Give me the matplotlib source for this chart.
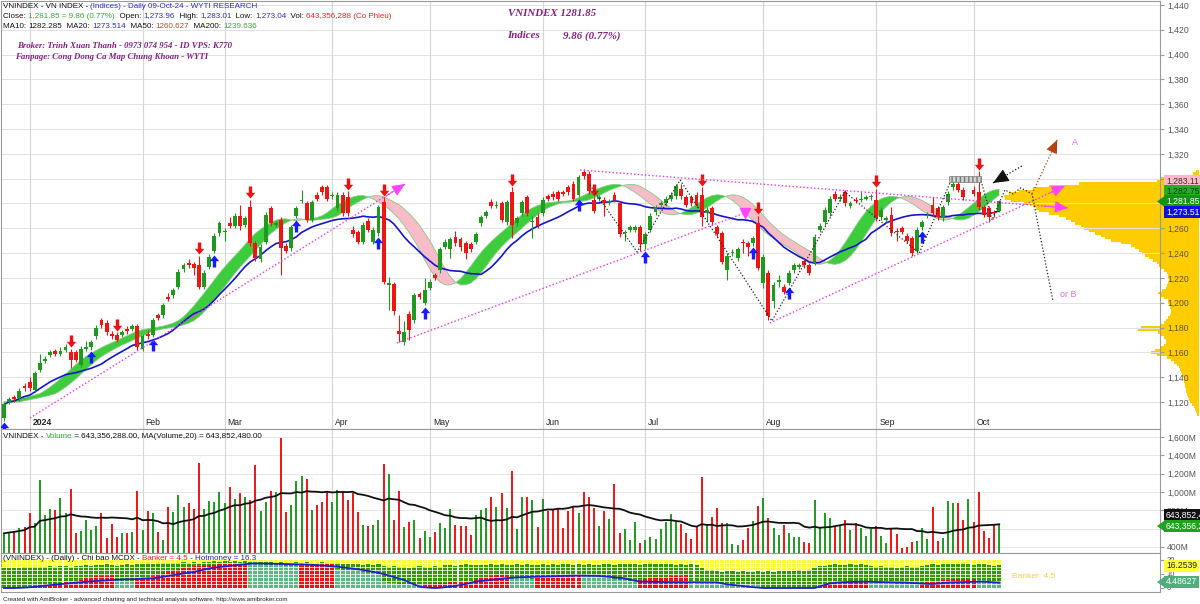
import numpy as np
import pandas as pd
import matplotlib
matplotlib.use("Agg")
import matplotlib.pyplot as plt
from matplotlib.path import Path
from matplotlib.patches import Rectangle, Polygon

plt.rcParams['font.family'] = ['Liberation Sans', 'DejaVu Sans']

# ---------------- data ----------------
opens = [1107, 1120, 1124, 1123, 1133, 1136, 1130, 1146, 1153, 1158,
         1161, 1159, 1162, 1160, 1160, 1150, 1163, 1164, 1173, 1186,
         1184, 1175, 1174, 1174, 1179, 1179, 1181, 1163, 1175, 1174,
         1190, 1190, 1205, 1206, 1213, 1227, 1232, 1231, 1230, 1213,
         1229, 1242, 1256, 1257, 1264, 1262, 1270, 1263, 1277, 1248,
         1235, 1249, 1276, 1263, 1267, 1246, 1244, 1270, 1282, 1280,
         1267, 1287, 1293, 1293, 1286, 1276, 1287, 1285, 1259, 1257,
         1249, 1266, 1249, 1256, 1281, 1214, 1215, 1177, 1168, 1191,
         1186, 1207, 1200, 1212, 1222, 1226, 1245, 1243, 1253, 1251,
         1248, 1247, 1249, 1264, 1270, 1281, 1278, 1280, 1265, 1289,
         1264, 1272, 1285, 1265, 1269, 1272, 1286, 1288, 1289, 1289,
         1293, 1296, 1287, 1305, 1304, 1283, 1284, 1283, 1281, 1287,
         1280, 1256, 1259, 1259, 1261, 1247, 1259, 1273, 1279, 1280,
         1284, 1286, 1292, 1285, 1285, 1287, 1287, 1272, 1276, 1261,
         1256, 1226, 1240, 1236, 1249, 1248, 1248, 1264, 1216, 1224,
         1201, 1217, 1213, 1216, 1226, 1229, 1234, 1230, 1232, 1259,
         1265, 1272, 1288, 1284, 1289, 1278, 1283, 1283, 1284, 1285,
         1283, 1269, 1267, 1271, 1258, 1260, 1254, 1252, 1242, 1261,
         1270, 1279, 1276, 1268, 1281, 1293, 1296, 1291, 1299, 1291,
         1289, 1277, 1276, 1273, 1273.96]
highs = [1120, 1124, 1126, 1131, 1135, 1140, 1145, 1159, 1157, 1162,
         1163, 1164, 1167, 1163, 1162, 1165, 1169, 1170, 1182, 1188,
         1186, 1177, 1176, 1178, 1181, 1183, 1183, 1175, 1178, 1188,
         1192, 1200, 1208, 1212, 1227, 1232, 1235, 1233, 1238, 1226,
         1239, 1256, 1266, 1260, 1269, 1272, 1279, 1270, 1283, 1250,
         1247, 1273, 1278, 1266, 1269, 1248, 1263, 1278, 1291, 1282,
         1283, 1289, 1295, 1295, 1289, 1289, 1289, 1290, 1262, 1259,
         1265, 1268, 1261, 1279, 1285, 1221, 1217, 1190, 1185, 1193,
         1208, 1209, 1220, 1219, 1224, 1245, 1251, 1253, 1258, 1253,
         1250, 1249, 1257, 1271, 1275, 1284, 1282, 1282, 1283, 1293,
         1270, 1283, 1287, 1270, 1272, 1285, 1288, 1290, 1291, 1291,
         1295, 1298, 1303, 1308, 1306, 1285, 1287, 1285, 1284, 1289,
         1282, 1259, 1263, 1263, 1263, 1257, 1272, 1279, 1282, 1286,
         1289, 1296, 1296, 1287, 1287, 1289, 1293, 1277, 1278, 1263,
         1258, 1240, 1243, 1245, 1251, 1250, 1254, 1270, 1239, 1226,
         1217, 1222, 1215, 1226, 1232, 1232, 1236, 1232, 1255, 1264,
         1277, 1286, 1290, 1288, 1291, 1282, 1285, 1290, 1287, 1288,
         1292, 1277, 1270, 1277, 1260, 1262, 1256, 1254, 1261, 1267,
         1273, 1285, 1278, 1279, 1290, 1298, 1298, 1293, 1302, 1294,
         1306, 1279, 1278, 1275, 1283.01]
lows = [1105, 1118, 1120, 1121, 1129, 1129, 1128, 1144, 1151, 1156,
        1157, 1157, 1160, 1147, 1152, 1148, 1161, 1162, 1171, 1180,
        1174, 1171, 1168, 1172, 1175, 1177, 1162, 1161, 1171, 1172,
        1186, 1188, 1201, 1204, 1211, 1225, 1228, 1222, 1211, 1211,
        1227, 1240, 1254, 1250, 1260, 1260, 1259, 1261, 1246, 1234,
        1233, 1247, 1262, 1261, 1222, 1240, 1242, 1268, 1280, 1265,
        1265, 1282, 1287, 1282, 1284, 1274, 1270, 1270, 1253, 1247,
        1247, 1257, 1247, 1254, 1215, 1194, 1190, 1168, 1166, 1170,
        1184, 1203, 1198, 1210, 1218, 1224, 1243, 1236, 1246, 1242,
        1235, 1241, 1247, 1262, 1268, 1276, 1276, 1265, 1263, 1252,
        1262, 1270, 1270, 1252, 1260, 1270, 1282, 1283, 1282, 1286,
        1287, 1282, 1285, 1300, 1288, 1272, 1282, 1270, 1279, 1281,
        1253, 1250, 1257, 1257, 1242, 1243, 1257, 1271, 1277, 1278,
        1282, 1284, 1284, 1277, 1278, 1277, 1262, 1265, 1263, 1253,
        1231, 1218, 1238, 1234, 1240, 1238, 1246, 1226, 1212, 1186,
        1196, 1213, 1207, 1214, 1224, 1227, 1228, 1222, 1230, 1257,
        1263, 1270, 1282, 1282, 1278, 1276, 1280, 1281, 1283, 1283,
        1266, 1267, 1265, 1254, 1250, 1255, 1248, 1238, 1240, 1259,
        1268, 1270, 1267, 1266, 1279, 1291, 1289, 1283, 1297, 1286,
        1275, 1269, 1265, 1269, 1273.04]
closes = [1118, 1122, 1122, 1129, 1131, 1131, 1143, 1151, 1155, 1160,
          1159, 1161, 1164, 1154, 1154, 1163, 1164, 1168, 1180, 1182,
          1176, 1173, 1170, 1176, 1177, 1181, 1164, 1173, 1173, 1186,
          1188, 1198, 1203, 1210, 1225, 1230, 1230, 1228, 1213, 1224,
          1237, 1254, 1264, 1258, 1262, 1270, 1262, 1268, 1248, 1236,
          1245, 1271, 1264, 1264, 1244, 1242, 1261, 1276, 1283, 1267,
          1281, 1284, 1289, 1284, 1287, 1287, 1272, 1272, 1255, 1249,
          1263, 1259, 1259, 1277, 1217, 1216, 1193, 1175, 1176, 1178,
          1206, 1205, 1210, 1217, 1220, 1243, 1249, 1251, 1248, 1245,
          1240, 1243, 1255, 1269, 1273, 1278, 1279, 1267, 1281, 1263,
          1268, 1281, 1272, 1266, 1262, 1283, 1284, 1285, 1284, 1288,
          1289, 1284, 1301, 1302, 1290, 1274, 1285, 1280, 1282, 1283,
          1255, 1257, 1261, 1261, 1247, 1255, 1270, 1277, 1280, 1284,
          1287, 1294, 1286, 1279, 1280, 1279, 1269, 1275, 1265, 1255,
          1233, 1238, 1241, 1243, 1248, 1245, 1252, 1228, 1237, 1189,
          1214, 1218, 1209, 1224, 1230, 1230, 1230, 1224, 1253, 1262,
          1275, 1284, 1284, 1285, 1280, 1280, 1282, 1284, 1285, 1286,
          1268, 1275, 1268, 1256, 1257, 1257, 1250, 1240, 1259, 1265,
          1271, 1272, 1269, 1277, 1288, 1296, 1291, 1285, 1300, 1288,
          1277, 1271, 1269, 1272, 1281.85]

# volume in millions of shares
volume = [549, 568, 579, 604, 622, 775, 659, 1132, 750, 812,
          804, 932, 775, 1030, 557, 579, 695, 586, 630, 768,
          495, 651, 513, 549, 557, 568, 1016, 586, 797, 768,
          568, 477, 841, 786, 968, 834, 877, 812, 1314, 812,
          906, 895, 1005, 885, 1052, 921, 994, 943, 914, 1296,
          797, 892, 1008, 1005, 1588, 786, 859, 1125, 1169, 1140,
          804, 859, 895, 1005, 895, 1023, 1005, 914, 987, 786,
          640, 630, 640, 695, 1303, 1198, 695, 1016, 622, 677,
          695, 495, 575, 513, 568, 666, 604, 812, 640, 630,
          630, 531, 750, 804, 823, 950, 834, 987, 823, 1234,
          593, 950, 950, 914, 615, 921, 797, 804, 812, 604,
          797, 848, 768, 1005, 950, 823, 630, 797, 706, 1089,
          549, 593, 477, 670, 440, 477, 506, 484, 593, 677,
          757, 677, 648, 557, 484, 630, 1161, 648, 724, 830,
          666, 659, 429, 422, 477, 604, 684, 848, 939, 713,
          611, 531, 640, 549, 506, 506, 451, 440, 914, 604,
          768, 713, 622, 630, 695, 586, 666, 604, 524, 593,
          630, 520, 440, 604, 542, 393, 404, 458, 466, 604,
          484, 834, 466, 502, 903, 885, 877, 695, 921, 677,
          1005, 579, 502, 651, 648]

# MCDX indicator
banker = [0.2, 0.3, 0.4, 0.5, 0.6, 0.8,
          1.5, 2, 2.5, 3, 3.3, 3.6, 4, 4.3, 4.5,
          6, 7, 7.8, 8.3, 8.6, 8.8, 9,
          5, 4.8, 4.6, 4.4,
          6.5, 7.5, 8, 8.3,
          10, 11, 12, 13, 13.8, 14.5, 15, 15.6, 16,
          16.2, 16.4, 16.6, 16.8, 17, 17.1, 17.2, 17.3, 17.4,
          17.2, 17, 16.8, 16.6, 16.5, 16.3, 16.1, 16, 15.8, 15.6,
          16, 16.3, 16.5, 16.7, 16.9, 17, 17.1,
          13.5, 13, 12.6, 12.2, 11.8, 11.4, 11, 10.6, 10.2,
          4, 3.8, 3.5, 3.2, 3, 2.7, 2.4, 2.2,
          2.6, 3, 3.3, 3.6, 3.9, 4.1, 4.3, 4.5, 4.6, 4.8,
          6.5, 7.5, 8.2, 8.7, 9, 9.2, 9.4,
          7.5, 7.2, 7, 6.8, 6.6,
          7.5, 8, 8.5, 8.8, 9, 9.2, 9.4, 9.5, 9.6,
          9.3, 9, 8.6, 8.2,
          7.5, 7, 6.5, 6, 5.5, 5, 4.5,
          5.5, 6.5, 7, 7.5, 7.8, 8, 8.3, 8.5, 8.7, 9,
          5, 4.7, 4.4, 4.2, 4, 3.8, 3.6, 3.4, 3.2, 3, 2.8, 2.5, 2.2, 2,
          0, 0, 0, 0, 0, 0, 0, 0, 0, 0, 0,
          1.5, 2.5, 3.2, 3.8, 4.2, 4.5, 4.7, 4.9, 5, 5.1,
          4.5, 4, 3.7, 3.5, 3.3, 3.1, 2.9, 2.8, 2.7, 2.6,
          3.2, 4, 4.6, 5, 5.4, 5.8, 6.1, 6.3, 6.5, 6.6, 6.7,
          6, 5.5, 5.1, 4.8, 4.49]
hotmoney = [14, 14.5, 14, 14.2, 14.8, 15,
            15, 15.3, 14.8, 15.5, 15.2, 15.8, 15.4, 15, 15.6,
            16, 16.4, 15.8, 16.6, 16.2, 16.8, 16.4, 16, 16.6, 17, 16.5,
            17, 17.4, 17.8, 17.2, 17.6, 18, 17.5, 18.2, 17.8, 18.4, 18, 18.6, 18.2,
            18.8, 18.4, 19, 18.6, 19.2, 18.8, 19, 18.5, 19.1, 18.7, 18.4, 18.8,
            18.3, 18.6, 18.1, 18.4, 17.9, 18.2, 18.5, 18, 18.4, 17.8, 18.1, 18.5, 17.9, 18.2,
            17.5, 17, 17.4, 16.8, 17.2, 16.6, 17, 16.5, 16.9,
            15.5, 15, 15.4, 14.8, 15.2, 14.6, 15, 15.4, 14.9, 15.3, 15.7, 15.2,
            16.2, 16.6, 16, 16.5, 16.9, 16.3, 16.7, 16.1, 16.6, 17,
            16.4, 16.8, 16.2, 16.6, 17, 16.5, 16.9, 16.3, 16.7, 17.1,
            16.5, 16.9, 16.4, 16.8, 17.2, 16.6, 17, 16.4, 16.8, 16.2, 16.6,
            16.8, 17.2, 16.6, 17, 17.4, 16.9, 17.3, 16.7, 17.1, 17.5,
            17, 17.4, 16.8, 17.2, 16.6, 17, 16.4, 16.8, 16.2,
            14, 13, 12.5, 12, 11.6, 12.2, 11.8, 11.4, 12, 11.6,
            11.2, 11.8, 11.4, 12, 11.6, 12.2, 11.8, 12.4, 12, 12.6, 12.2, 12.8,
            14.5, 15.5, 16, 16.4, 16.8, 16.2, 16.6, 17, 16.4, 16.8, 16.2,
            15.5, 15, 15.4, 14.8, 15.2, 14.6, 15, 15.4, 14.9, 15.3,
            16, 16.5, 17, 16.6, 17.2, 16.8, 17.4, 17, 17.5, 17.1, 16.7, 17.2, 16.8, 16.4, 16, 16.25]
mcdx_line = [0, 0, 0, 0.1, 0.3, 0.5,
             0.8, 1.2, 1.6, 2, 2.4, 2.8, 3.1, 3.5, 3.8,
             4.1, 4.4, 4.7, 5, 5.2, 5.5, 5.7, 5.9, 6.1, 6.2,
             6.3, 6.4, 6.6, 6.8, 6.9,
             7.4, 8, 8.6, 9.2, 9.8, 10.4, 10.9, 11.4,
             12.3, 13.2, 14,
             14.5, 15, 15.4, 15.8, 16.2,
             16.6, 17, 17.4, 17.5, 17.5, 17.4,
             17.4, 17.3, 17.2, 17.1, 17, 16.9, 16.8, 16.7,
             16.5, 16.3, 16.1, 15.8, 15.5, 15.2,
             14.8, 14.3, 13.8, 13.4, 12.9,
             12.2, 11.5, 10.8, 10,
             8.9, 7.8, 6.8, 5.7,
             4, 2.5, 1, 0.5, 0.2, 0,
             0.2, 0.6, 1, 1.5, 2.1,
             2.9, 3.7, 4.5, 5, 5.4, 5.8, 6.2,
             6.6, 7, 7.3, 7.6,
             7.7, 7.8, 8, 8.1,
             8.2, 8.3, 8.4, 8.5, 8.6, 8.7, 8.8,
             8.8, 8.8, 8.7, 8.7, 8.6,
             8.3, 8, 7.6, 7.3, 6.9,
             6, 5.2, 4.5,
             4.5, 4.4, 4.4, 4.3, 4.3, 4.2, 4.2, 4.2, 4.1, 4.1, 4.1, 4, 4, 4, 4,
             3.3, 2.6, 2.2, 1.8, 1.4, 1, 0.6, 0.3, 0,
             0, 0, 0, 0, 0, 0, 0, 0, 0, 0,
             1, 2.2, 3.3, 3.7, 4, 4.2, 4.3, 4.4, 4.5, 4.5,
             4.4, 4.3, 4.2, 4.1, 4, 3.9, 3.9, 3.8,
             3.6, 3.4, 3.2, 3, 2.9,
             3.2, 3.5, 3.8, 4,
             4.1, 4.2, 4.3, 4.4, 4.5, 4.5,
             4.3, 4, 3.8]

# volume profile: price levels 1110..1306 (step 2) and volume at price (relative units)
vp_levels = list(range(1110, 1308, 2))
vp_volume = [2, 3, 4, 5, 7, 9, 10, 11, 12, 13,
             13, 14, 14, 15, 15, 16, 17, 18, 19, 20,
             22, 25, 28, 32, 42, 48, 44, 38, 35, 33,
             33, 35, 38, 41, 61, 58, 38, 35, 33, 31,
             29, 28, 28, 29, 30, 31, 31, 35, 39, 41,
             37, 33, 32, 31, 30, 31, 31, 32, 35, 38,
             40, 42, 46, 50, 54, 57, 60, 64, 68, 78,
             88, 94, 98, 104, 110, 115, 118, 124, 128, 133,
             140, 150, 160, 163, 166, 175, 188, 194, 195, 190,
             180, 166, 150, 120, 42, 38, 30, 6, 3]

month_names = ['2024', 'Feb', 'Mar', 'Apr', 'May', 'Jun', 'Jul', 'Aug', 'Sep', 'Oct']
month_bars = [5, 27, 43, 64, 83, 105, 125, 148, 170, 189]

sell_signal_bars = [13, 22, 38, 48, 67, 74, 99, 115, 136, 147, 170, 190]
buy_signal_bars = [0, 17, 29, 41, 57, 73, 82, 112, 125, 146, 153, 179]

# hand-drawn analysis lines (bar index, price)
trend_jan = [(5.07, 1107.1), (78.2, 1295.7)]
trend_apr = [(76.6, 1167.6), (144.4, 1272.3)]
trend_top = [(112.3, 1307.0), (207.4, 1276.4)]
trend_aug = [(149.3, 1183.7), (206.8, 1294.1)]
wave_1 = [(114.2, 1294.9), (123.4, 1240.9), (131.8, 1298.9), (149.7, 1185.3),
          (163.9, 1289.3), (178.4, 1240.1), (184.4, 1296.5)]
wave_2 = [(190.3, 1300.6), (192.6, 1266.7), (195.1, 1290.9), (196.7, 1287.7),
          (198.2, 1292.5), (200.4, 1287.7), (204.5, 1200.7)]
path_a = [(200.4, 1287.7), (205.3, 1331.2)]
black_arrow = [(198.4, 1310.2), (192.8, 1296.5)]

# ---------------- layout ----------------
W, H = 1200, 604
fig = plt.figure(figsize=(W / 100, H / 100), dpi=100)


def rect(x0, y0, x1, y1):
    return [x0 / W, 1 - y1 / H, (x1 - x0) / W, (y1 - y0) / H]


XLIM = (-0.585, 225.34)
PRICE_LIM = (1098.2, 1443.2)
VOL_LIM = (334.5, 1687)
MCDX_LIM = (-2.86, 25)

GREEN = '#1f9a1f'
RED = '#ee1515'
BLUE = '#1515d0'
MAG = '#ee33ee'
GRID = '#e2e2e2'
VGRID = '#d6d6d6'
SPINE = '#9a9a9a'

x = np.arange(len(closes))
o = np.array(opens, float)
h = np.array(highs, float)
l = np.array(lows, float)
c = np.array(closes, float)
up = c >= o
col = np.where(up, GREEN, RED)

# volume profile behind the price panel
ax_vp = fig.add_axes(rect(985, 1, 1199, 429), zorder=0)
ax_vp.barh(vp_levels, vp_volume, height=2.05, color='#ffcc00', lw=0)
ax_vp.set_xlim(214, 0)
ax_vp.set_ylim(PRICE_LIM)
ax_vp.axis('off')

# ---------------- price panel ----------------
ax = fig.add_axes(rect(1, 1, 1160, 429), zorder=1)
ax.patch.set_visible(False)
ax.set_xlim(XLIM)
ax.set_ylim(PRICE_LIM)
for p in range(1120, 1441, 20):
    ax.axhline(p, color=GRID, lw=0.7, zorder=0)
for b in month_bars:
    ax.axvline(b, color=VGRID, lw=0.8, zorder=0)

# ribbon (double smoothed average of highs) and MA20
hs = pd.Series(h).rolling(8, min_periods=1).mean()
rib_a = hs.rolling(8, min_periods=1).mean().values
rib_b = pd.Series(rib_a).shift(3).bfill().values
ax.fill_between(x, rib_a, rib_b, where=rib_a >= rib_b, interpolate=True,
                color='#3ccc3c', lw=0, zorder=2)
ax.fill_between(x, rib_a, rib_b, where=rib_a < rib_b, interpolate=True,
                color='#f7bcc8', lw=0, zorder=2)
ax.plot(x, rib_a, color='#86c886', lw=0.6, zorder=2)
ax.plot(x, rib_b, color='#86c886', lw=0.6, zorder=2)

ma20 = pd.Series(c).rolling(20, min_periods=1).mean()
ax.plot(x, ma20, color=BLUE, lw=1.2, zorder=3)

# candles
ax.vlines(x, l, h, colors=col, lw=0.8, zorder=4)
body_lo = np.minimum(o, c)
body_h = np.maximum(np.abs(c - o), 0.7)
ax.bar(x, body_h, bottom=body_lo, width=0.75, color=col, lw=0, zorder=5)

# buy / sell arrows
arrow_verts = [(0, 1), (0.78, 0.05), (0.28, 0.05), (0.28, -1), (-0.28, -1),
               (-0.28, 0.05), (-0.78, 0.05), (0, 1)]
up_arrow = Path(arrow_verts, closed=True)
down_arrow = Path([(vx, -vy) for vx, vy in arrow_verts], closed=True)
sb = np.array(sell_signal_bars)
bb = np.array(buy_signal_bars)
ax.scatter(sb, h[sb] + 6, marker=down_arrow, s=75, color='#ee1111', lw=0, zorder=6)
ax.scatter(bb, l[bb] - 6, marker=up_arrow, s=75, color='#1a1aff', lw=0, zorder=6)


def dotted(pts, color, lw=1.0):
    xs, ys = zip(*pts)
    ax.plot(xs, ys, linestyle=(0, (1, 1.6)), color=color, lw=lw, zorder=7)


def head(pts, color, scale=10):
    (x0, y0), (x1, y1) = pts[-2], pts[-1]
    ax.annotate('', xy=(x1, y1), xytext=(x1 - 0.05 * (x1 - x0), y1 - 0.05 * (y1 - y0)),
                arrowprops=dict(arrowstyle='-|>,head_length=0.8,head_width=0.35',
                                color=color, lw=0.8, shrinkA=0, shrinkB=0,
                                mutation_scale=scale), zorder=8)


dotted(trend_jan, MAG)
head(trend_jan, '#ff44ff')
dotted(trend_apr, MAG)
ax.plot(*trend_apr[-1], marker='v', color='#ff44ff', ms=7, zorder=8)
dotted(trend_top, MAG)
head(trend_top, '#ff44ff')
dotted(trend_aug, MAG)
head(trend_aug, '#ff44ff')
dotted(wave_1, '#222222', lw=0.9)
dotted(wave_2, '#222222', lw=0.9)
dotted(path_a, '#b8400c', lw=0.9)
head(path_a, '#b8400c')
dotted(black_arrow, '#111111', lw=0.9)
head(black_arrow, '#111111', scale=12)
ax.add_patch(Rectangle((184.2, 1297.3), 6.2, 4.7, facecolor='#cfcfcf',
                       edgecolor='#7a7a7a', hatch='||||', lw=0.5, zorder=7))
ax.text(208.2, 1328.8, 'A', color='#e070e0', fontsize=6.5, va='center', zorder=8)
ax.text(205.8, 1206.3, 'or B', color='#e070e0', fontsize=6.5, va='center', zorder=8)

for b, name in zip(month_bars, month_names):
    ax.text(b + 0.6, 0.015, name, transform=ax.get_xaxis_transform(), fontsize=6.2,
            fontweight='bold' if name == '2024' else 'normal', va='center', color='#222222')

price_ticks = [v for v in range(1120, 1441, 20) if v != 1280]
ax.set_xticks([])
ax.set_yticks(price_ticks)
ax.set_yticklabels([f'{v:,}' for v in price_ticks])
ax.yaxis.tick_right()
ax.tick_params(axis='y', labelsize=6.2, labelcolor='#555555', length=3, color=SPINE, pad=2)
for s in ax.spines.values():
    s.set_color(SPINE)
    s.set_linewidth(0.8)

# ---------------- volume panel ----------------
ax_v = fig.add_axes(rect(1, 429, 1160, 553), zorder=1)
ax_v.set_xlim(XLIM)
ax_v.set_ylim(VOL_LIM)
for v in range(400, 1601, 200):
    ax_v.axhline(v, color=GRID, lw=0.6, zorder=0)
for b in month_bars:
    ax_v.axvline(b, color=VGRID, lw=0.8, zorder=0)
vol = np.array(volume, float)
ax_v.vlines(x, VOL_LIM[0], vol, colors=col, lw=1.4, zorder=2)
vol_ma = pd.Series(vol).rolling(20, min_periods=1).mean()
ax_v.plot(x, vol_ma, color='#111111', lw=1.3, zorder=3)
vol_ticks = [400, 800, 1000, 1200, 1400, 1600]
ax_v.set_xticks([])
ax_v.set_yticks(vol_ticks)
ax_v.set_yticklabels([f'{v:,}M' for v in vol_ticks])
ax_v.yaxis.tick_right()
ax_v.tick_params(axis='y', labelsize=6.2, labelcolor='#555555', length=3, color=SPINE, pad=2)
for s in ax_v.spines.values():
    s.set_color(SPINE)
    s.set_linewidth(0.8)

# ---------------- MCDX panel ----------------
ax_m = fig.add_axes(rect(1, 553, 1160, 592), zorder=1)
ax_m.set_xlim(XLIM)
ax_m.set_ylim(MCDX_LIM)
bk = np.array(banker, float)
bk_col = np.where(np.diff(bk, prepend=bk[0]) >= 0, '#ee1111', '#5bb985')
ax_m.bar(x, np.full(len(x), 20.0), width=0.8, color='#ffff22', lw=0, zorder=1)
ax_m.bar(x, hotmoney, width=0.8, color='#339a00', lw=0, zorder=2)
ax_m.bar(x, bk, width=0.8, color=bk_col, lw=0, zorder=3)
for v in np.arange(2.5, 20, 2.5):
    ax_m.axhline(v, color='white', lw=0.5, zorder=4)
ax_m.plot(x, mcdx_line, color='#2020d0', lw=1.3, zorder=5)
ax_m.set_xticks([])
ax_m.set_yticks([0, 10, 20])
ax_m.yaxis.tick_right()
ax_m.tick_params(axis='y', labelsize=5.5, labelcolor='#555555', length=3, color=SPINE, pad=2)
for s in ax_m.spines.values():
    s.set_color(SPINE)
    s.set_linewidth(0.8)

# ---------------- overlay texts (pixel coordinates) ----------------
ov = fig.add_axes([0, 0, 1, 1], zorder=5)
ov.set_xlim(0, W)
ov.set_ylim(H, 0)
ov.axis('off')
ov.patch.set_visible(False)
rend = fig.canvas.get_renderer()


def put_parts(x0, y0, parts, size, **kw):
    xx = x0
    for s, colr in parts:
        t = ov.text(xx, y0, s, color=colr, fontsize=size, va='center', ha='left', **kw)
        xx += t.get_window_extent(renderer=rend).width
    return xx


K = '#111111'
B = '#2b2bd0'
put_parts(3, 6, [('VNINDEX - VN INDEX - ', K),
                 ('(Indices) - Daily 09-Oct-24 - WYTI RESEARCH', B)], 5.8)
put_parts(3, 16, [('Close: ', K), ('1,281.85 = 9.86 (0.77%)', '#33aa33'),
                  ('  Open: ', K), ('1,273.96', B), ('  High: ', K), ('1,283.01', B),
                  ('  Low: ', K), ('1,273.04', B), ('  Vol: ', K),
                  ('643,356,288 (Co Phieu)', '#ee2222')], 5.8)
put_parts(3, 26, [('MA10: ', K), ('1282.285', K), ('  MA20: ', K), ('1273.514', B),
                  ('  MA50: ', K), ('1260.627', '#a0522d'), ('  MA200: ', K),
                  ('1239.636', '#33aa33')], 5.8)

PURPLE = '#861f86'
serif = ['Liberation Serif', 'DejaVu Serif']
ov.text(17, 46, 'Broker: Trinh Xuan Thanh - 0973 074 954 - ID VPS: K770', color=PURPLE,
        fontsize=6.3, fontweight='bold', fontstyle='italic', family=serif, va='center')
ov.text(15, 57, 'Fanpage: Cong Dong Ca Map Chung Khoan - WYTI', color=PURPLE,
        fontsize=6.3, fontweight='bold', fontstyle='italic', family=serif, va='center')
ov.text(508, 14, 'VNINDEX 1281.85', color=PURPLE, fontsize=7.8, fontweight='bold',
        fontstyle='italic', family=serif, va='center')
ov.text(507, 36, 'Indices', color=PURPLE, fontsize=7.8, fontweight='bold',
        fontstyle='italic', family=serif, va='center')
ov.text(563, 36, '9.86 (0.77%)', color=PURPLE, fontsize=7.8, fontweight='bold',
        fontstyle='italic', family=serif, va='center')

put_parts(3, 436, [('VNINDEX - ', K), ('Volume', '#33aa33'),
                   (' = 643,356,288.00, MA(Volume,20) = 643,852,480.00', K)], 5.8)
put_parts(3, 558, [('(VNINDEX) - (Daily) - Chi bao MCDX - ', K), ('Banker = 4.5', '#ee2222'),
                   (' - ', K), ('Hotmoney = 16.3', '#2222dd')], 5.8)
ov.text(3, 600, 'Created with AmiBroker - advanced charting and technical analysis software. '
        'http://www.amibroker.com', fontsize=4.5, color='#222222', va='center')
ov.text(1012, 577, 'Banker: 4.5', fontsize=6, color='#e6d24a', va='center')


def value_box(y0, s, bg, fg, pointer=False, size=6.2):
    ov.text(1166, y0, s, fontsize=size, color=fg, va='center', ha='left',
            bbox=dict(boxstyle='square,pad=0.2', fc=bg, ec='none'))
    if pointer:
        ov.add_patch(Polygon([(1157, y0), (1164, y0 - 5), (1164, y0 + 5)],
                             closed=True, color=bg, lw=0))


value_box(181, '1,283.11', '#ffb6c8', '#333333')
value_box(191, '1,282.75', '#22b022', '#0a3a0a')
value_box(201.5, '1,281.85', '#129512', 'white', pointer=True)
value_box(212, '1,273.51', '#1010e6', 'white')
value_box(515, '643,852,4', '#111111', 'white')
value_box(526, '643,356,2', '#22a022', 'white', pointer=True)
value_box(566, '16.2539', '#ffff33', '#222222')
value_box(582, '4.48627', '#4fae7c', 'white', pointer=True)

fig.savefig('out.png', dpi=100)
